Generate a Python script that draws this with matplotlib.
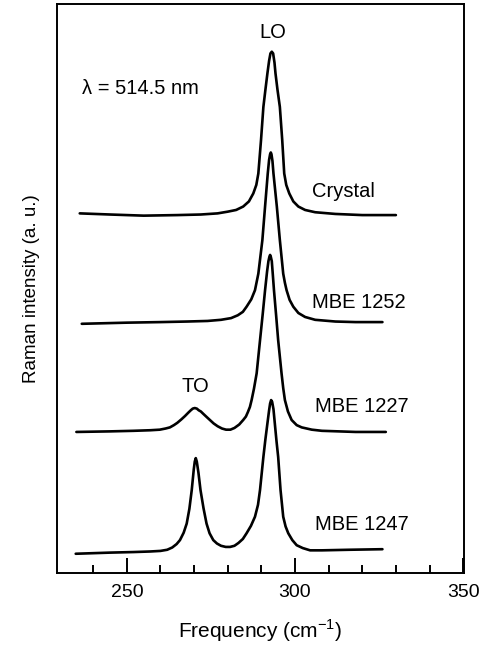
import matplotlib
matplotlib.use("Agg")
import matplotlib.pyplot as plt
from matplotlib.ticker import MultipleLocator, FixedLocator

plt.rcParams["font.family"] = ["Liberation Sans", "DejaVu Sans"]
plt.rcParams["mathtext.fontset"] = "custom"
plt.rcParams["mathtext.rm"] = "Liberation Sans"

# spectra: frequency (cm-1), intensity (a.u., stacked)
crystal_freq = [236.0, 245, 255, 265, 272, 277, 280, 282.5, 284.6, 286.3, 287.6,
                288.5, 289.1, 289.9, 290.6, 291.2, 291.8, 292.3, 292.7, 293.1,
                293.5, 293.9, 294.2, 294.8, 295.5, 296.2, 296.8, 297.4, 298.3,
                299.5, 301.0, 303, 306, 312, 320, 330]
crystal_int = [63.2, 63.0, 62.8, 62.9, 63.0, 63.2, 63.5, 63.8, 64.4, 65.3, 66.7,
               68.2, 70.2, 76.1, 81.9, 84.9, 87.8, 90.0, 91.3, 91.6,
               91.3, 89.7, 87.8, 84.9, 81.9, 76.1, 70.2, 68.2, 66.7,
               65.3, 64.4, 63.8, 63.4, 63.1, 62.9, 62.9]

mbe1252_freq = [236.6, 250, 260, 268, 274, 278, 281, 283, 284.5, 285.6, 287.0,
                288.1, 289.1, 290.3, 291.1, 291.9, 292.3, 292.6, 292.8, 293.0,
                293.3, 293.6, 294.6, 295.5, 296.5, 297.0, 297.5, 298.4, 299.5,
                301, 303, 306, 312, 318, 326]
mbe1252_int = [43.8, 44.0, 44.1, 44.2, 44.3, 44.5, 44.8, 45.3, 45.9, 46.8, 48.1,
               49.7, 52.6, 58.5, 64.4, 70.2, 72.6, 73.6, 73.9, 73.6,
               72.4, 70.2, 64.4, 58.5, 52.6, 51.0, 49.7, 48.0, 46.8,
               45.7, 45.0, 44.5, 44.2, 44.1, 44.1]

mbe1227_freq = [235, 245, 252, 257, 259.8, 261.5, 262.8, 264, 265, 266.2, 267.3,
                268.3, 269, 269.6, 270.2, 270.8, 271.4, 272.0, 272.7, 273.6,
                274.7, 275.8, 277, 278.3, 279.5, 280.8, 282, 283.4, 284.6,
                285.4, 286, 286.6, 287.1, 287.8, 288.6, 289.6, 290.4, 291.1,
                291.7, 292.1, 292.4, 292.6, 292.8, 293.1, 293.4, 293.75, 294.4,
                295.0, 296.0, 296.5, 297.0, 297.9, 299.0, 300.5, 302, 305,
                308, 318, 327]
mbe1227_int = [24.8, 24.9, 25.0, 25.1, 25.2, 25.4, 25.6, 26.0, 26.4, 27.0, 27.6,
               28.2, 28.6, 28.9, 29.0, 28.9, 28.6, 28.4, 28.0, 27.5,
               26.9, 26.3, 25.8, 25.4, 25.2, 25.2, 25.5, 26.1, 26.9,
               27.5, 28.3, 29.2, 30.4, 32.4, 35.1, 40.9, 45.5, 49.7,
               53.0, 54.8, 55.6, 55.9, 55.6, 54.8, 52.5, 49.7, 45.2,
               40.9, 35.1, 32.5, 30.4, 28.4, 26.9, 26.0, 25.6, 25.2,
               25.0, 24.8, 24.8]

mbe1247_freq = [234.8, 245, 252, 257, 260, 262, 263.5, 264.8, 265.8, 266.9, 267.8,
                268.6, 269.3, 269.9, 270.2, 270.5, 270.8, 271.3, 271.9, 272.8,
                273.7, 274.6, 275.7, 276.8, 278, 279.4, 280.7, 282, 283.2,
                284.5, 285.6, 286.9, 288.1, 289.0, 289.6, 290.6, 291.2, 291.8,
                292.3, 292.6, 292.9, 293.2, 293.6, 294.0, 294.5, 295.0, 295.7,
                296.5, 297.2, 298.0, 299.2, 300.5, 302.3, 304.5, 308, 316, 326]
mbe1247_int = [3.4, 3.6, 3.7, 3.8, 3.9, 4.1, 4.5, 5.1, 5.8, 7.1, 8.7,
               11.3, 14.6, 18.2, 19.6, 20.2, 19.6, 17.6, 14.6, 11.4,
               8.7, 7.0, 5.8, 5.2, 4.8, 4.6, 4.6, 4.8, 5.3,
               6.0, 7.0, 8.3, 9.9, 12.0, 14.6, 20.4, 23.5, 26.3,
               28.6, 29.8, 30.4, 30.1, 28.8, 26.3, 23.2, 20.4, 14.6,
               9.9, 8.2, 7.0, 5.8, 4.9, 4.4, 4.0, 4.0, 4.1, 4.2]

sample_names = ["Crystal", "MBE 1252", "MBE 1227", "MBE 1247"]
name_pos = [(305.1, 67.0), (305.1, 47.5), (306.0, 29.2), (306.0, 8.6)]

fig = plt.figure(figsize=(4.82, 6.52), dpi=100)
ax = fig.add_axes([0.118, 0.121, 0.845, 0.873])

for f, i in [(crystal_freq, crystal_int), (mbe1252_freq, mbe1252_int),
             (mbe1227_freq, mbe1227_int), (mbe1247_freq, mbe1247_int)]:
    ax.plot(f, i, color="black", lw=1.9, solid_joinstyle="round",
            solid_capstyle="round")

for name, (x, y) in zip(sample_names, name_pos):
    ax.text(x, y, name, fontsize=14.5, ha="left", va="center")

ax.text(293.5, 94.9, "LO", fontsize=14.5, ha="center", va="center")
ax.text(270.5, 32.7, "TO", fontsize=14.5, ha="center", va="center")
ax.text(236.6, 85.2, "λ = 514.5 nm", fontsize=14.5, ha="left", va="center")

ax.set_xlim(229.2, 350.3)
ax.set_ylim(0, 100)
ax.xaxis.set_major_locator(MultipleLocator(50))
ax.xaxis.set_minor_locator(FixedLocator(range(240, 350, 10)))
ax.tick_params(axis="x", which="major", direction="in", length=11, width=1.4,
               labelsize=14, pad=8, top=False)
ax.tick_params(axis="x", which="minor", direction="in", length=5.5, width=1.4,
               top=False)
ax.set_yticks([])
for s in ax.spines.values():
    s.set_linewidth(1.4)

ax.set_xlabel("Frequency (cm$^{-1}$)", fontsize=15, labelpad=12)
ax.set_ylabel("Raman intensity (a. u.)", fontsize=13.5, labelpad=12)

fig.savefig("out.png", dpi=100)
